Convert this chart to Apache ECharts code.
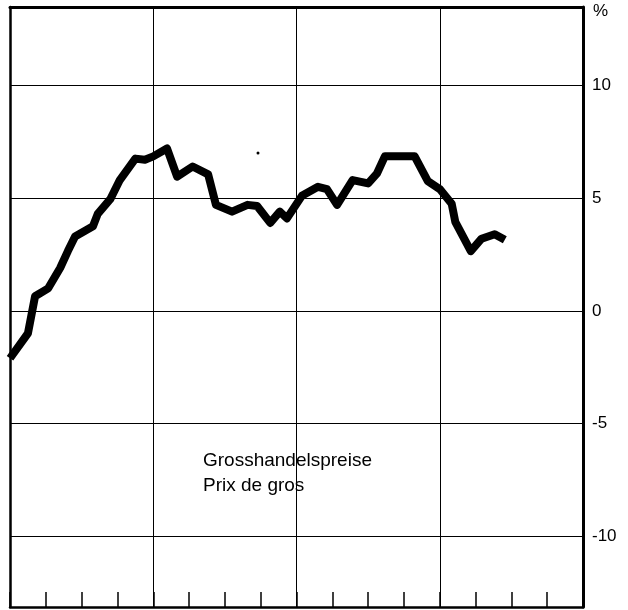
<!DOCTYPE html>
<html>
<head>
<meta charset="utf-8">
<script src="https://cdn.jsdelivr.net/npm/echarts@6/dist/echarts.min.js"></script>
<style>html,body{margin:0;padding:0;background:#fff}#c{width:628px;height:610px}</style>
</head>
<body>
<div id="c"></div>
<script>
// x positions in months from the left edge (4 years, 48 months)
const months = [0,1.5,2.1,3.2,4.2,4.85,5.45,6.95,7.35,8.4,9.2,10.5,11.3,12,13.15,14,15.3,16.6,17.25,18.6,19.9,20.7,21.8,22.6,23.2,24.45,25.8,26.55,27.4,28.7,30,30.75,31.4,33.9,35,36,37,37.3,38.6,39.5,40.6,41.45];
const values = [-2.1,-1.0,0.65,1.0,1.9,2.65,3.3,3.75,4.3,4.95,5.8,6.75,6.7,6.85,7.2,5.95,6.4,6.05,4.7,4.4,4.7,4.65,3.9,4.4,4.1,5.1,5.5,5.4,4.7,5.8,5.65,6.1,6.85,6.85,5.75,5.4,4.75,3.95,2.65,3.2,3.4,3.15];
const yTickLabels = ['-10','-5','0','5','10'];
const seriesLabel = ['Grosshandelspreise', 'Prix de gros'];

const data = months.map((m, i) => [m, values[i]]);
const chart = echarts.init(document.getElementById('c'), null, {renderer: 'canvas'});
const font = 'Liberation Sans, Arial, Helvetica, sans-serif';
const T = 'rgba(0,0,0,0)';
// y ticks every 0.625 from -13.125: index 5, 13, 21 ... are the multiples of 5
const gridColors = [T, T, T, T, T, '#000', T, T];

chart.setOption({
  animation: false,
  backgroundColor: '#fff',
  grid: {left: 10, right: 45, top: 7, bottom: 3, containLabel: false},
  xAxis: [
    {
      type: 'value', min: 0, max: 48, interval: 12, position: 'bottom',
      axisLine: {show: true, onZero: false, lineStyle: {color: '#000', width: 2.5}},
      axisTick: {show: true, inside: true, length: 15, lineStyle: {color: '#000', width: 1.5}},
      minorTick: {show: true, splitNumber: 4, length: 15, lineStyle: {color: '#000', width: 1.5}},
      axisLabel: {show: false},
      splitLine: {show: true, lineStyle: {color: '#000', width: 1}}
    },
    {
      type: 'value', min: 0, max: 48, position: 'top',
      axisLine: {show: true, onZero: false, lineStyle: {color: '#000', width: 3}},
      axisTick: {show: false}, axisLabel: {show: false}, splitLine: {show: false}
    }
  ],
  yAxis: [
    {
      type: 'value', min: -13.125, max: 13.47, interval: 0.625, position: 'right',
      axisLine: {show: true, onZero: false, lineStyle: {color: '#000', width: 3}},
      axisTick: {show: false},
      axisLabel: {
        show: true, margin: 9, color: '#000', fontSize: 17, fontFamily: font,
        formatter: function (v) {
          if (Math.abs(v - Math.round(v / 5) * 5) > 1e-6) return '';
          const s = String(Math.round(v));
          return yTickLabels.indexOf(s) >= 0 ? s : '';
        }
      },
      splitLine: {show: true, lineStyle: {color: gridColors, width: 1}}
    },
    {
      type: 'value', min: -13.125, max: 13.47, position: 'left',
      axisLine: {show: true, onZero: false, lineStyle: {color: '#000', width: 2.5}},
      axisTick: {show: false}, axisLabel: {show: false}, splitLine: {show: false}
    }
  ],
  series: [{
    type: 'line',
    data: data,
    xAxisIndex: 0, yAxisIndex: 0,
    showSymbol: false, symbol: 'none',
    lineStyle: {color: '#000', width: 8, join: 'round', cap: 'butt'}
  }],
  graphic: [
    {type: 'text', left: 593, top: 3, style: {text: '%', fill: '#000', font: '17px ' + font}},
    {type: 'text', left: 203, top: 451, style: {text: seriesLabel[0], fill: '#000', font: '19px ' + font}},
    {type: 'text', left: 203, top: 476, style: {text: seriesLabel[1], fill: '#000', font: '19px ' + font}},
    {type: 'circle', shape: {cx: 258, cy: 153, r: 1.5}, style: {fill: '#000'}}
  ]
});
</script>
</body>
</html>
